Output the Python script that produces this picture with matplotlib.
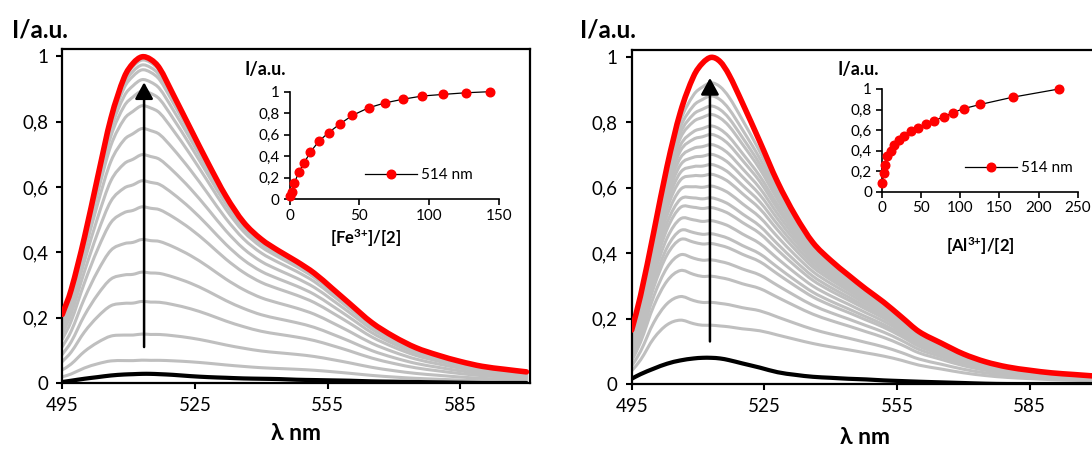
import numpy as np
import matplotlib
matplotlib.use("Agg")
import matplotlib.pyplot as plt
from matplotlib.path import Path
from matplotlib.patches import PathPatch

plt.rcParams["font.family"] = ["Lato", "DejaVu Sans"]
plt.rcParams["mathtext.fontset"] = "custom"
plt.rcParams["mathtext.rm"] = "Lato:bold"
plt.rcParams["mathtext.it"] = "Lato:bold"
plt.rcParams["mathtext.bf"] = "Lato:bold"
plt.rcParams["mathtext.default"] = "rm"

# ---------------- data ----------------
wavelength = [495, 497, 500, 503, 506, 509, 511, 513, 515, 517, 520, 524, 528, 532,
              536, 540, 544, 548, 552, 556, 560, 565, 570, 575, 580, 585, 590, 595, 600]

# Fe3+ titration: final (red) and initial (black) emission spectra
fe_final = [0.21, 0.285, 0.445, 0.63, 0.81, 0.935, 0.978, 0.998, 0.99, 0.963, 0.885, 0.778,
            0.672, 0.572, 0.492, 0.440, 0.404, 0.372, 0.336, 0.29, 0.243, 0.185, 0.142,
            0.108, 0.085, 0.066, 0.051, 0.042, 0.034]
fe_initial = [0.003, 0.007, 0.013, 0.018, 0.023, 0.026, 0.027, 0.028, 0.028, 0.027, 0.025,
              0.021, 0.018, 0.016, 0.014, 0.013, 0.012, 0.010, 0.009, 0.008, 0.007, 0.005,
              0.004, 0.003, 0.002, 0.001, 0.0, 0.0, 0.0]
# off-peak saturation exponent of the band (1 = grows linearly with the 514 nm signal)
fe_offpeak_exp = [1.3, 1.4, 1.5, 1.35, 1.2, 1.05, 1.0, 1.0, 1.0, 1.03, 1.1, 1.2, 1.3, 1.4,
                  1.5, 1.55, 1.6, 1.65, 1.7, 1.75, 1.8, 1.85, 1.9, 1.95, 2.0, 2.0, 2.0, 2.0, 2.0]
# intermediate spectra: intensity at the band maximum
fe_peaks = [0.07, 0.15, 0.25, 0.34, 0.44, 0.54, 0.62, 0.70, 0.78, 0.85, 0.895, 0.93,
            0.96, 0.975, 0.99]
fe_ratio = [0, 1.5, 3.5, 6.5, 10.5, 15, 21, 28, 36, 45, 56.5, 68, 81, 95, 110, 126, 143]
fe_i514 = [0.027, 0.07, 0.15, 0.25, 0.34, 0.44, 0.54, 0.62, 0.70, 0.78, 0.85, 0.895, 0.93,
           0.96, 0.975, 0.99, 1.0]

# Al3+ titration
al_final = [0.165, 0.27, 0.465, 0.665, 0.83, 0.94, 0.98, 0.998, 0.985, 0.945, 0.86, 0.74,
            0.617, 0.515, 0.432, 0.378, 0.333, 0.29, 0.25, 0.205, 0.16, 0.125, 0.092,
            0.068, 0.052, 0.042, 0.034, 0.029, 0.024]
al_initial = [0.016, 0.03, 0.047, 0.062, 0.072, 0.078, 0.08, 0.08, 0.078, 0.073, 0.063,
              0.05, 0.036, 0.028, 0.022, 0.019, 0.016, 0.014, 0.011, 0.009, 0.007, 0.005,
              0.003, 0.001, 0.0, 0.0, 0.0, 0.0, 0.0]
al_offpeak_exp = [1.4, 1.6, 1.8, 1.6, 1.35, 1.1, 1.02, 1.0, 1.0, 1.03, 1.1, 1.25, 1.4, 1.55,
                  1.7, 1.8, 1.9, 2.0, 2.1, 2.2, 2.25, 2.3, 2.35, 2.4, 2.45, 2.5, 2.5, 2.5, 2.5]
al_peaks = [0.18, 0.25, 0.33, 0.38, 0.43, 0.46, 0.50, 0.54, 0.57, 0.606, 0.642, 0.672,
            0.703, 0.733, 0.764, 0.79, 0.825, 0.851, 0.882, 0.922]
al_ratio = [1, 2.5, 4.3, 7.2, 11.5, 16, 22, 28.5, 37, 46, 56, 67, 79, 91, 105, 126, 167, 226]
al_i514 = [0.085, 0.18, 0.26, 0.35, 0.40, 0.45, 0.50, 0.54, 0.59, 0.62, 0.66, 0.69, 0.73,
           0.77, 0.81, 0.85, 0.92, 1.0]

y_ticks = [0, 0.2, 0.4, 0.6, 0.8, 1.0]
x_ticks = [495, 525, 555, 585]

# ---------------- layout helpers ----------------
W, H = 1092, 449
fig = plt.figure(figsize=(W / 100, H / 100), dpi=100)


def rect(x0, y_top, x1, y_bot):
    return [x0 / W, 1 - y_bot / H, (x1 - x0) / W, (y_bot - y_top) / H]


def comma(v, _=None):
    return ("%g" % v).replace(".", ",")


def smooth_line(ax, x, y, **kw):
    """Draw a smoothed line (cubic Hermite Bezier) through the given points."""
    x = np.asarray(x, float)
    y = np.asarray(y, float)
    n = len(x)
    m = np.empty(n)
    m[1:-1] = (y[2:] - y[:-2]) / (x[2:] - x[:-2])
    m[0] = (y[1] - y[0]) / (x[1] - x[0])
    m[-1] = (y[-1] - y[-2]) / (x[-1] - x[-2])
    verts = [(x[0], y[0])]
    codes = [Path.MOVETO]
    for i in range(n - 1):
        h = x[i + 1] - x[i]
        verts += [(x[i] + h / 3, y[i] + m[i] * h / 3),
                  (x[i + 1] - h / 3, y[i + 1] - m[i + 1] * h / 3),
                  (x[i + 1], y[i + 1])]
        codes += [Path.CURVE4] * 3
    patch = PathPatch(Path(verts, codes), fill=False, capstyle="round",
                      joinstyle="round", **kw)
    ax.add_patch(patch)


def spectra_panel(ax, final, initial, expo, peaks, arrow_x, arrow_y0, arrow_y1):
    final = np.asarray(final)
    expo = np.asarray(expo)
    for p in peaks:
        curve = final * (1 - (1 - p) ** expo)
        smooth_line(ax, wavelength, curve, edgecolor="#BFBFBF", lw=2.2, zorder=1)
    smooth_line(ax, wavelength, initial, edgecolor="black", lw=3.0, zorder=2)
    smooth_line(ax, wavelength, final, edgecolor="#FF0000", lw=4.0, zorder=3)
    ax.annotate("", xy=(arrow_x, arrow_y1), xytext=(arrow_x, arrow_y0),
                arrowprops=dict(arrowstyle="-|>,head_length=1.0,head_width=0.55",
                                mutation_scale=10, lw=1.8, color="black",
                                shrinkA=0, shrinkB=0), zorder=4)
    ax.set_xlim(495, 600.8)
    ax.set_ylim(0, 1.022)
    ax.set_xticks(x_ticks)
    ax.set_yticks(y_ticks)
    ax.yaxis.set_major_formatter(plt.FuncFormatter(comma))
    ax.tick_params(direction="out", length=4, width=1.5, labelsize=13.5, pad=6)
    for s in ax.spines.values():
        s.set_linewidth(1.6)


def inset_panel(ax, xs, ys, xmax, xstep):
    ax.plot(xs, ys, "-o", color="black", lw=0.9, markersize=6.2,
            markerfacecolor="#FF0000", markeredgecolor="#FF0000", label="514 nm",
            clip_on=False, zorder=3)
    ax.set_xlim(0, xmax)
    ax.set_ylim(0, 1)
    ax.set_xticks(np.arange(0, xmax + 1, xstep))
    ax.set_yticks(y_ticks)
    ax.yaxis.set_major_formatter(plt.FuncFormatter(comma))
    ax.tick_params(direction="out", length=4, width=1.2, labelsize=11, pad=3)
    ax.spines["top"].set_visible(False)
    ax.spines["right"].set_visible(False)
    for s in ("left", "bottom"):
        ax.spines[s].set_linewidth(1.2)
    ax.patch.set_alpha(0)


# ---------------- left: Fe3+ ----------------
axL = fig.add_axes(rect(62.3, 49, 530, 383))
spectra_panel(axL, fe_final, fe_initial, fe_offpeak_exp, fe_peaks, 513.5, 0.11, 0.92)
fig.text(12 / W, 1 - 30 / H, "I/a.u.", fontsize=17.5, fontweight="bold", ha="left", va="center")
fig.text(296 / W, 1 - 433 / H, "λ nm", fontsize=16.5, fontweight="bold", ha="center", va="center")

insL = fig.add_axes(rect(289.5, 91.7, 499.3, 199.3))
inset_panel(insL, fe_ratio, fe_i514, 150, 50)
insL.legend(loc="center left", bbox_to_anchor=(365 / W, 1 - 175 / H),
            bbox_transform=fig.transFigure, frameon=False, fontsize=11,
            handlelength=3.4, handletextpad=0.25, borderpad=0, borderaxespad=0,
            numpoints=1)
fig.text(245 / W, 1 - 70 / H, "I/a.u.", fontsize=13, fontweight="bold", ha="left", va="center")
fig.text(366 / W, 1 - 238 / H, r"$[\mathrm{Fe}^{3{+}}]/[2]$", fontsize=12,
         ha="center", va="center")

# ---------------- right: Al3+ ----------------
axR = fig.add_axes(rect(631.7, 49.5, 1099.4, 384))
spectra_panel(axR, al_final, al_initial, al_offpeak_exp, al_peaks, 512.7, 0.13, 0.935)
fig.text(580 / W, 1 - 30 / H, "I/a.u.", fontsize=17.5, fontweight="bold", ha="left", va="center")
fig.text(865 / W, 1 - 437 / H, "λ nm", fontsize=16.5, fontweight="bold", ha="center", va="center")

insR = fig.add_axes(rect(881.7, 89, 1077.7, 191.7))
inset_panel(insR, al_ratio, al_i514, 250, 50)
insR.legend(loc="center left", bbox_to_anchor=(965 / W, 1 - 168.3 / H),
            bbox_transform=fig.transFigure, frameon=False, fontsize=11,
            handlelength=3.4, handletextpad=0.25, borderpad=0, borderaxespad=0,
            numpoints=1)
fig.text(837 / W, 1 - 70 / H, "I/a.u.", fontsize=13, fontweight="bold", ha="left", va="center")
fig.text(980 / W, 1 - 246 / H, r"$[\mathrm{Al}^{3{+}}]/[2]$", fontsize=12,
         ha="center", va="center")

fig.savefig("out.png", dpi=100)
